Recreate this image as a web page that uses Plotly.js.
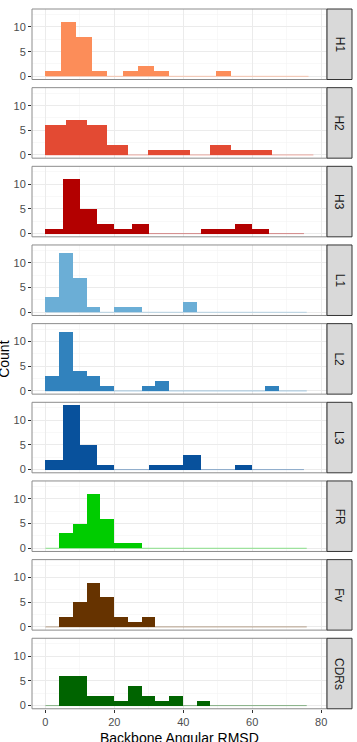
<!DOCTYPE html>
<html><head><meta charset="utf-8">
<script src="https://cdn.plot.ly/plotly-3.0.1.min.js"></script>
<style>html,body{margin:0;padding:0;background:#fff}#chart{width:357px;height:742px}</style>
</head><body><div id="chart"></div>
<script>
// ---- data ----
const panels = ["H1", "H2", "H3", "L1", "L2", "L3", "FR", "Fv", "CDRs"];
const panelColors = ["#FC8D59", "#E34A33", "#B30000", "#6BAED6", "#3182BD", "#08519C", "#00CC00", "#663300", "#006400"];
const binWidths = [4.49, 5.98, 5.0, 3.99, 3.99, 5.0, 3.99, 3.99, 3.99];
const countsH1 = [1, 11, 8, 1, 0, 1, 2, 1, 0, 0, 0, 1, 0, 0, 0, 0, 0];
const countsH2 = [6, 7, 6, 2, 0, 1, 1, 0, 2, 1, 1, 0, 0];
const countsH3 = [1, 11, 5, 2, 1, 2, 0, 0, 0, 1, 1, 2, 1, 0, 0];
const countsL1 = [3, 12, 7, 1, 0, 1, 1, 0, 0, 0, 2, 0, 0, 0, 0, 0, 0, 0, 0];
const countsL2 = [3, 12, 4, 3, 1, 0, 0, 1, 2, 0, 0, 0, 0, 0, 0, 0, 1, 0, 0];
const countsL3 = [2, 13, 5, 1, 0, 0, 1, 1, 3, 0, 0, 1, 0, 0, 0];
const countsFR = [0, 3, 5, 11, 6, 1, 1, 0, 0, 0, 0, 0, 0, 0, 0, 0, 0, 0, 0];
const countsFv = [0, 2, 5, 9, 6, 2, 1, 2, 0, 0, 0, 0, 0, 0, 0, 0, 0, 0, 0];
const countsCDRs = [0, 6, 6, 2, 2, 1, 4, 2, 1, 2, 0, 1, 0, 0, 0, 0, 0, 0, 0];
const allCounts = [countsH1, countsH2, countsH3, countsL1, countsL2, countsL3, countsFR, countsFv, countsCDRs];
const xTicks = [0, 20, 40, 60, 80];
const yTicks = [0, 5, 10];
const xTitle = "Backbone Angular RMSD";
const yTitle = "Count";

// ---- layout constants ----
const W = 357, H = 742;
const mL = 32, mR = 5, mT = 9, mB = 33;
const plotW = W - mL - mR, plotH = H - mT - mB;
const panelRightPx = 327;
const xDomEnd = (panelRightPx - mL) / plotW;
const pitch = 78.66, panelH = 70.5;
const FONT = "Liberation Sans, Arial, sans-serif";

const traces = [];
const shapes = [];
const annotations = [];
const layout = {
  width: W, height: H,
  margin: {l: mL, r: mR, t: mT, b: mB, pad: 0},
  paper_bgcolor: "#fff", plot_bgcolor: "#fff",
  showlegend: false,
  bargap: 0,
  font: {family: FONT, size: 11, color: "#4D4D4D"},
  xaxis: {
    domain: [0, xDomEnd], range: [-3.89, 81.69], anchor: "y9",
    tickvals: xTicks, ticks: "outside", ticklen: 3, tickcolor: "#333",
    tickfont: {family: FONT, size: 11, color: "#4D4D4D"},
    showgrid: true, gridcolor: "#EBEBEB", gridwidth: 1, zeroline: false, showline: false,
    minor: {dtick: 10, tick0: 0, showgrid: true, gridcolor: "#F4F4F4", gridwidth: 0.6, ticks: ""}
  }
};

panels.forEach((name, i) => {
  const n = i + 1;
  const yName = "y" + (n === 1 ? "" : n);
  const yKey = "yaxis" + (n === 1 ? "" : n);
  const top = i * pitch;
  const dom = [1 - (top + panelH) / plotH, 1 - top / plotH];
  const counts = allCounts[i];
  const bw = binWidths[i];
  const centers = counts.map((_, k) => bw * (k + 0.5));
  traces.push({
    type: "scatter", mode: "lines", xaxis: "x", yaxis: yName,
    x: [0, bw * counts.length], y: [0, 0],
    line: {color: panelColors[i], width: 0.8}, opacity: 0.55, hoverinfo: "skip"
  });
  traces.push({
    type: "bar", xaxis: "x", yaxis: yName, x: centers, y: counts, width: bw,
    marker: {color: panelColors[i], line: {width: 0}}, name: name
  });
  layout[yKey] = {
    domain: dom, range: [-0.65, 13.65], anchor: "x",
    tickvals: yTicks, ticks: "outside", ticklen: 3, tickcolor: "#333",
    tickfont: {family: FONT, size: 11, color: "#4D4D4D"},
    showgrid: true, gridcolor: "#EBEBEB", gridwidth: 1, zeroline: false, showline: false,
    minor: {dtick: 2.5, tick0: 0, showgrid: true, gridcolor: "#F4F4F4", gridwidth: 0.6, ticks: ""}
  };
  shapes.push({
    type: "rect", xref: "x domain", yref: yName + " domain", x0: 0, x1: 1, y0: 0, y1: 1,
    line: {color: "#8C8C8C", width: 1}, fillcolor: "rgba(0,0,0,0)", layer: "above"
  });
  shapes.push({
    type: "rect", xref: "paper", yref: yName + " domain", x0: xDomEnd, x1: 1, y0: 0, y1: 1,
    line: {color: "#333333", width: 1}, fillcolor: "#D9D9D9", layer: "above"
  });
  annotations.push({
    xref: "paper", yref: yName + " domain", x: (xDomEnd + 1) / 2, y: 0.5,
    text: name, textangle: 90, showarrow: false,
    font: {family: FONT, size: 12, color: "#1A1A1A"}, xanchor: "center", yanchor: "middle"
  });
});

// axis titles (x title sits at the very bottom edge, like the reference)
annotations.push({
  xref: "paper", yref: "paper", x: xDomEnd / 2, y: 0, yshift: -(H - mT - plotH) + 2 - 1,
  text: xTitle, showarrow: false, font: {family: FONT, size: 14, color: "#000"},
  xanchor: "center", yanchor: "bottom"
});
annotations[annotations.length - 1].yshift = -mB - 6;
annotations.push({
  xref: "paper", yref: "paper", x: -mL / plotW + 0.012, y: 0.5, text: yTitle, textangle: -90,
  showarrow: false, font: {family: FONT, size: 14, color: "#000"}, xanchor: "center", yanchor: "middle"
});

layout.shapes = shapes;
layout.annotations = annotations;
Plotly.newPlot("chart", traces, layout, {displayModeBar: false, staticPlot: true});
</script>
</body></html>
